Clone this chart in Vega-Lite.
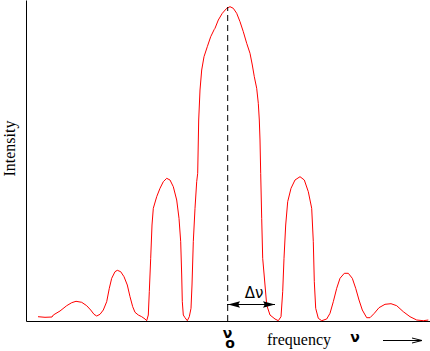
{
  "$schema": "https://vega.github.io/schema/vega-lite/v6.json",
  "width": 404,
  "height": 321,
  "autosize": {"type": "none"},
  "padding": {"left": 26, "top": 0, "right": 0, "bottom": 30},
  "background": "white",
  "config": {"view": {"stroke": null}},
  "layer": [
    {
      "data": {"values": [
        {"f":38,"py":316.7},{"f":45,"py":317.3},{"f":52,"py":317},{"f":53.3,"py":315},{"f":60,"py":311},{"f":66.7,"py":305.7},{"f":71.7,"py":302.7},{"f":76,"py":301.3},{"f":81.7,"py":302.3},{"f":86.7,"py":305.7},{"f":90.7,"py":310},{"f":94,"py":314.3},{"f":96.7,"py":316},{"f":100,"py":314.3},{"f":103.3,"py":310},{"f":106.7,"py":301.7},{"f":109.3,"py":288.3},{"f":111.7,"py":278.3},{"f":115,"py":271.7},{"f":117.3,"py":270.3},{"f":120.7,"py":271.7},{"f":124,"py":276.7},{"f":127.3,"py":285},{"f":130,"py":296.7},{"f":132.7,"py":306.7},{"f":135,"py":312.3},{"f":138.3,"py":315},{"f":141.7,"py":316.7},{"f":145,"py":319},{"f":146.7,"py":320.7},
        {"f":148.3,"py":315},{"f":149.3,"py":291.7},{"f":150.7,"py":258.3},{"f":152,"py":225},{"f":153.3,"py":208.3},{"f":156.7,"py":196.7},{"f":160,"py":188.3},{"f":163.3,"py":181.7},{"f":166.7,"py":178.3},{"f":170,"py":180},{"f":173.3,"py":186.7},{"f":176.7,"py":200},{"f":179,"py":218.3},{"f":180.7,"py":241.7},{"f":181.7,"py":275},{"f":182.3,"py":301.7},{"f":183.3,"py":315},{"f":185,"py":317.7},{"f":187.3,"py":320.7},{"f":189.3,"py":316.7},{"f":191,"py":308.3},{"f":192,"py":285},{"f":193.3,"py":241.7},{"f":195,"py":208.3},{"f":196.7,"py":181.7},
        {"f":197.7,"py":173.3},{"f":198.7,"py":120},{"f":200,"py":90},{"f":201.7,"py":70},{"f":204,"py":56.7},{"f":207.3,"py":46.7},{"f":210.7,"py":36.7},{"f":214.3,"py":29.3},{"f":215,"py":28.3},{"f":218.3,"py":20},{"f":222.3,"py":13.3},{"f":226.7,"py":8.3},{"f":230,"py":6.7},{"f":233.3,"py":8.3},{"f":236.7,"py":13.3},{"f":240,"py":21.7},{"f":243.3,"py":31.7},{"f":246.7,"py":43.3},{"f":250,"py":53.3},{"f":252.3,"py":65},{"f":254.3,"py":76.7},{"f":256.7,"py":88.3},{"f":258.3,"py":103.3},{"f":259.3,"py":120},{"f":260,"py":140},{"f":260.7,"py":173.3},
        {"f":261.7,"py":218.3},{"f":262.7,"py":258.3},{"f":265,"py":285},{"f":266.7,"py":305},{"f":270,"py":315},{"f":275,"py":319},{"f":278.3,"py":320.7},{"f":281,"py":316.7},{"f":282.7,"py":291.7},{"f":284,"py":258.3},{"f":285.7,"py":225},{"f":287.7,"py":201.7},{"f":291,"py":188.3},{"f":295,"py":180},{"f":300,"py":176.7},{"f":304.3,"py":180},{"f":308.3,"py":191.7},{"f":311.7,"py":208.3},{"f":313.3,"py":241.7},{"f":314.3,"py":281.7},{"f":315.7,"py":308.3},{"f":318.3,"py":318.3},{"f":321.7,"py":320.7},{"f":326.7,"py":319},{"f":330,"py":313.3},{"f":333.3,"py":301.7},{"f":336.7,"py":288.3},{"f":340,"py":278.3},{"f":344.3,"py":273.3},{"f":348.3,"py":273.3},{"f":352.3,"py":278.3},{"f":355.7,"py":288.3},{"f":359,"py":300},{"f":362.3,"py":310},{"f":366.7,"py":317.7},{"f":370,"py":317.7},{"f":374.3,"py":313.3},{"f":379,"py":307.7},{"f":385,"py":304.3},{"f":391,"py":303.7},{"f":396.7,"py":305.7},{"f":403.3,"py":311.7},{"f":410,"py":316.7},{"f":416.7,"py":320},{"f":423.3,"py":320.7},{"f":428.3,"py":320}
      ]},
      "transform": [{"calculate": "321 - datum.py", "as": "I"}],
      "mark": {"type": "line", "color": "#ff0000", "strokeWidth": 1, "clip": false},
      "encoding": {
        "x": {"field": "f", "type": "quantitative", "scale": {"domain": [26, 430], "nice": false, "zero": false},
          "axis": {"title": null, "labels": false, "ticks": false, "grid": false, "domainColor": "black", "domainWidth": 1}},
        "y": {"field": "I", "type": "quantitative", "scale": {"domain": [0, 321], "nice": false},
          "axis": {"title": "Intensity", "titleFont": "Liberation Serif", "titleFontSize": 16, "titleFontWeight": "normal", "titleColor": "black", "titlePadding": 9, "titleY": 148, "labels": false, "ticks": false, "grid": false, "domainColor": "black", "domainWidth": 1}},
        "order": {"field": "f", "type": "quantitative"}
      }
    },
    {
      "data": {"values": [{"f": 227.7, "I0": 0, "I1": 314}]},
      "mark": {"type": "rule", "color": "black", "strokeWidth": 1, "strokeDash": [6, 4]},
      "encoding": {
        "x": {"field": "f", "type": "quantitative"},
        "y": {"field": "I0", "type": "quantitative"},
        "y2": {"field": "I1"}
      }
    },
    {
      "data": {"values": [{"f0": 227, "f1": 275, "I": 16.5}, {"f0": 383, "f1": 421, "I": -19.5}]},
      "mark": {"type": "rule", "color": "black", "strokeWidth": 1},
      "encoding": {
        "x": {"field": "f0", "type": "quantitative"},
        "x2": {"field": "f1"},
        "y": {"field": "I", "type": "quantitative"}
      }
    },
    {
      "data": {"values": [{"f": 234, "I": 16.5}]},
      "mark": {"type": "point", "shape": "M -1 0 L 1 -0.55 L 0.7 0 L 1 0.55 Z", "filled": true, "color": "black", "size": 144, "opacity": 1},
      "encoding": {"x": {"field": "f", "type": "quantitative"}, "y": {"field": "I", "type": "quantitative"}}
    },
    {
      "data": {"values": [{"f": 269, "I": 16.5}]},
      "mark": {"type": "point", "shape": "M 1 0 L -1 -0.55 L -0.7 0 L -1 0.55 Z", "filled": true, "color": "black", "size": 144, "opacity": 1},
      "encoding": {"x": {"field": "f", "type": "quantitative"}, "y": {"field": "I", "type": "quantitative"}}
    },
    {
      "data": {"values": [{"f": 417, "I": -19.5}]},
      "mark": {"type": "point", "shape": "M -1 -0.5 L 1 0 L -1 0.5", "filled": false, "color": "black", "strokeWidth": 1, "size": 100, "opacity": 1},
      "encoding": {"x": {"field": "f", "type": "quantitative"}, "y": {"field": "I", "type": "quantitative"}}
    },
    {
      "data": {"values": [
        {"f": 254, "I": 23, "t": "Δν"}
      ]},
      "mark": {"type": "text", "baseline": "alphabetic", "align": "center", "fontSize": 15, "font": "DejaVu Sans", "color": "black"},
      "encoding": {
        "x": {"field": "f", "type": "quantitative"},
        "y": {"field": "I", "type": "quantitative"},
        "text": {"field": "t"}
      }
    },
    {
      "data": {"values": [
        {"f": 227.5, "I": -16.5, "t": "ν"},
        {"f": 355, "I": -21, "t": "ν"}
      ]},
      "mark": {"type": "text", "baseline": "alphabetic", "align": "center", "fontSize": 14, "font": "DejaVu Sans", "fontWeight": "bold", "color": "black"},
      "encoding": {
        "x": {"field": "f", "type": "quantitative"},
        "y": {"field": "I", "type": "quantitative"},
        "text": {"field": "t"}
      }
    },
    {
      "data": {"values": [
        {"f": 230, "I": -27, "t": "o"}
      ]},
      "mark": {"type": "text", "baseline": "alphabetic", "align": "center", "fontSize": 14, "font": "DejaVu Sans", "fontWeight": "bold", "color": "black"},
      "encoding": {
        "x": {"field": "f", "type": "quantitative"},
        "y": {"field": "I", "type": "quantitative"},
        "text": {"field": "t"}
      }
    },
    {
      "data": {"values": [
        {"f": 299, "I": -24, "t": "frequency"}
      ]},
      "mark": {"type": "text", "baseline": "alphabetic", "align": "center", "fontSize": 16, "font": "Liberation Serif", "color": "black"},
      "encoding": {
        "x": {"field": "f", "type": "quantitative"},
        "y": {"field": "I", "type": "quantitative"},
        "text": {"field": "t"}
      }
    }
  ]
}
